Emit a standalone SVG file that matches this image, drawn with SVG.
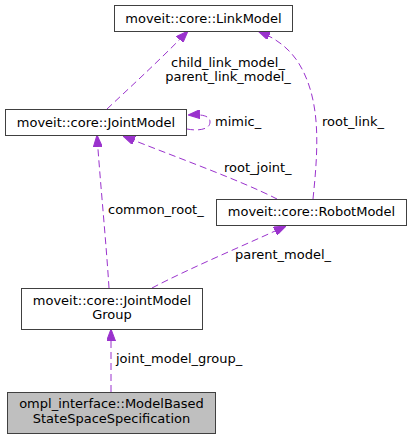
<svg xmlns="http://www.w3.org/2000/svg" width="413" height="439" viewBox="0 0 413 439">
<style>
.box{fill:#ffffff;stroke:#404040;stroke-width:1}
.main{fill:#bfbfbf;stroke:#404040;stroke-width:1}
.t{font-family:"DejaVu Sans","Liberation Sans",sans-serif;font-size:13px;fill:#000000}
.e{fill:none;stroke:#9a32cd;stroke-width:1;stroke-dasharray:7,4}
</style>
<defs>
<marker id="ah" viewBox="0 0 12 9" refX="12" refY="4.5" markerWidth="12" markerHeight="9" markerUnits="userSpaceOnUse" orient="auto">
<path d="M0,0 L12,4.5 L0,9 Z" fill="#9a32cd" stroke="#9a32cd"/>
</marker>
</defs>
<rect width="413" height="439" fill="#ffffff"/>
<g id="edges">
<path class="e" marker-end="url(#ah)" d="M107,109 C125,92 160,60 188,31"/>
<path class="e" marker-end="url(#ah)" d="M187,129 C197,131 210,130 210,122 C210,116 203,114 188,115"/>
<path class="e" marker-end="url(#ah)" d="M313,199 C318,150 322,100 298,62 C288,47 275,38 258,31"/>
<path class="e" marker-end="url(#ah)" d="M277,199 C240,180 170,155 123,136"/>
<path class="e" marker-end="url(#ah)" d="M109,288 C106,240 100,180 97,135"/>
<path class="e" marker-end="url(#ah)" d="M152,288 C190,268 245,245 286,226"/>
<path class="e" marker-end="url(#ah)" d="M111,392 L111,329"/>
<text class="t" x="228" y="67" text-anchor="middle">child_link_model_</text>
<text class="t" x="228" y="81" text-anchor="middle">parent_link_model_</text>
<text class="t" x="215" y="126">mimic_</text>
<text class="t" x="322" y="126">root_link_</text>
<text class="t" x="224" y="172">root_joint_</text>
<text class="t" x="108" y="214">common_root_</text>
<text class="t" x="235" y="259">parent_model_</text>
<text class="t" x="116" y="363">joint_model_group_</text>
</g>
<g id="LinkModel">
<rect class="box" x="114.5" y="5.5" width="178" height="26"/>
<text class="t" x="203.5" y="22.5" text-anchor="middle">moveit::core::LinkModel</text>
</g>
<g id="JointModel">
<rect class="box" x="5.5" y="109.5" width="181" height="26"/>
<text class="t" x="96" y="126.5" text-anchor="middle">moveit::core::JointModel</text>
</g>
<g id="RobotModel">
<rect class="box" x="216.5" y="199.5" width="190" height="26"/>
<text class="t" x="311.5" y="216" text-anchor="middle">moveit::core::RobotModel</text>
</g>
<g id="JointModelGroup">
<rect class="box" x="21.5" y="288.5" width="181" height="41"/>
<text class="t" x="112" y="305" text-anchor="middle">moveit::core::JointModel</text>
<text class="t" x="112" y="319" text-anchor="middle">Group</text>
</g>
<g id="ModelBasedStateSpaceSpecification">
<rect class="main" x="7.5" y="392.5" width="208" height="41"/>
<text class="t" x="111.5" y="408" text-anchor="middle">ompl_interface::ModelBased</text>
<text class="t" x="111.5" y="423" text-anchor="middle">StateSpaceSpecification</text>
</g>
</svg>
